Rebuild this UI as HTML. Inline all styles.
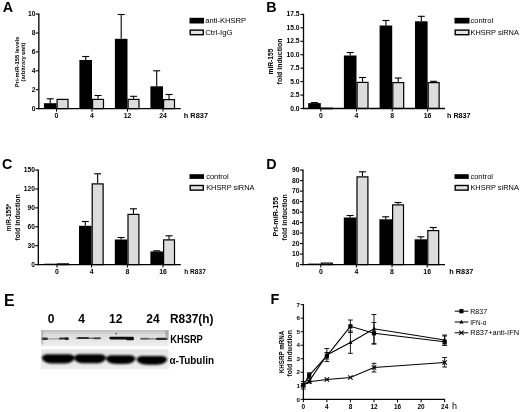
<!DOCTYPE html>
<html lang="en"><head><meta charset="utf-8"><title>KHSRP and miR-155 figure</title>
<style>html,body{margin:0;padding:0;background:#fff;}body{width:520px;height:412px;overflow:hidden;}svg{display:block;}svg text{font-family:"Liberation Sans", Arial, Helvetica, sans-serif;fill:#000;}</style>
</head><body>
<svg width="520" height="412" viewBox="0 0 520 412">
<defs>
<filter id="b1" x="-20%" y="-50%" width="140%" height="200%"><feGaussianBlur stdDeviation="0.9"/></filter>
<filter id="b2" x="-20%" y="-50%" width="140%" height="200%"><feGaussianBlur stdDeviation="0.7"/></filter>
<filter id="soft" x="-5%" y="-5%" width="110%" height="110%"><feGaussianBlur stdDeviation="0.35"/></filter>
<linearGradient id="g1" x1="0" y1="0" x2="0" y2="1"><stop offset="0" stop-color="#bdbdbd"/><stop offset="0.3" stop-color="#dcdcdc"/><stop offset="0.6" stop-color="#e6e6e6"/><stop offset="1" stop-color="#efefef"/></linearGradient>
<linearGradient id="g2" x1="0" y1="0" x2="0" y2="1"><stop offset="0" stop-color="#e4e4e4"/><stop offset="1" stop-color="#ededed"/></linearGradient>
</defs>
<rect width="520" height="412" fill="#fff"/>
<g filter="url(#soft)">
<text x="2.7" y="12.2" font-size="14.3" font-weight="bold" text-anchor="start">A</text>
<text x="266.3" y="12.2" font-size="14.3" font-weight="bold" text-anchor="start">B</text>
<text x="2.0" y="169.4" font-size="14.3" font-weight="bold" text-anchor="start">C</text>
<text x="266.3" y="169.2" font-size="14.3" font-weight="bold" text-anchor="start">D</text>
<text x="3.9" y="305.5" font-size="15.8" font-weight="bold" text-anchor="start">E</text>
<text x="270.5" y="304.2" font-size="14.5" font-weight="bold" text-anchor="start">F</text>
<line x1="50.2" y1="103.2" x2="50.2" y2="98.8" stroke="#000" stroke-width="1.1"/>
<line x1="46.7" y1="98.8" x2="53.7" y2="98.8" stroke="#000" stroke-width="1.1"/>
<rect x="43.9" y="103.2" width="12.6" height="5.3999999999999915" fill="#000"/>
<line x1="85.7" y1="60" x2="85.7" y2="56.5" stroke="#000" stroke-width="1.1"/>
<line x1="82.2" y1="56.5" x2="89.2" y2="56.5" stroke="#000" stroke-width="1.1"/>
<rect x="79.4" y="60" width="12.6" height="48.599999999999994" fill="#000"/>
<line x1="121.2" y1="38.8" x2="121.2" y2="14.5" stroke="#000" stroke-width="1.1"/>
<line x1="117.7" y1="14.5" x2="124.7" y2="14.5" stroke="#000" stroke-width="1.1"/>
<rect x="114.9" y="38.8" width="12.6" height="69.8" fill="#000"/>
<line x1="156.7" y1="86.3" x2="156.7" y2="70.8" stroke="#000" stroke-width="1.1"/>
<line x1="153.2" y1="70.8" x2="160.2" y2="70.8" stroke="#000" stroke-width="1.1"/>
<rect x="150.4" y="86.3" width="12.6" height="22.299999999999997" fill="#000"/>
<rect x="57.1" y="99.39999999999999" width="10.9" height="9.199999999999998" fill="#dcdcdc" stroke="#000" stroke-width="1.2"/>
<line x1="98.05" y1="98.8" x2="98.05" y2="95.5" stroke="#000" stroke-width="1.1"/>
<line x1="94.55" y1="95.5" x2="101.55" y2="95.5" stroke="#000" stroke-width="1.1"/>
<rect x="92.6" y="99.39999999999999" width="10.9" height="9.199999999999998" fill="#dcdcdc" stroke="#000" stroke-width="1.2"/>
<line x1="133.55" y1="98.8" x2="133.55" y2="96.3" stroke="#000" stroke-width="1.1"/>
<line x1="130.05" y1="96.3" x2="137.05" y2="96.3" stroke="#000" stroke-width="1.1"/>
<rect x="128.1" y="99.39999999999999" width="10.9" height="9.199999999999998" fill="#dcdcdc" stroke="#000" stroke-width="1.2"/>
<line x1="169.05" y1="99.0" x2="169.05" y2="94.5" stroke="#000" stroke-width="1.1"/>
<line x1="165.55" y1="94.5" x2="172.55" y2="94.5" stroke="#000" stroke-width="1.1"/>
<rect x="163.6" y="99.6" width="10.9" height="8.999999999999995" fill="#dcdcdc" stroke="#000" stroke-width="1.2"/>
<line x1="38.85" y1="13.5" x2="38.85" y2="109.25" stroke="#000" stroke-width="1.3"/>
<line x1="38.2" y1="108.6" x2="180.8" y2="108.6" stroke="#000" stroke-width="1.3"/>
<line x1="35.75" y1="108.6" x2="38.85" y2="108.6" stroke="#000" stroke-width="1.1"/>
<text x="35.45" y="110.6" font-size="6.7" font-weight="bold" text-anchor="end">0</text>
<line x1="35.75" y1="89.7" x2="38.85" y2="89.7" stroke="#000" stroke-width="1.1"/>
<text x="35.45" y="91.7" font-size="6.7" font-weight="bold" text-anchor="end">2</text>
<line x1="35.75" y1="70.8" x2="38.85" y2="70.8" stroke="#000" stroke-width="1.1"/>
<text x="35.45" y="72.8" font-size="6.7" font-weight="bold" text-anchor="end">4</text>
<line x1="35.75" y1="51.9" x2="38.85" y2="51.9" stroke="#000" stroke-width="1.1"/>
<text x="35.45" y="53.9" font-size="6.7" font-weight="bold" text-anchor="end">6</text>
<line x1="35.75" y1="33" x2="38.85" y2="33" stroke="#000" stroke-width="1.1"/>
<text x="35.45" y="35.0" font-size="6.7" font-weight="bold" text-anchor="end">8</text>
<line x1="35.75" y1="14.1" x2="38.85" y2="14.1" stroke="#000" stroke-width="1.1"/>
<text x="35.45" y="16.1" font-size="6.7" font-weight="bold" text-anchor="end">10</text>
<line x1="56.5" y1="108.6" x2="56.5" y2="111.6" stroke="#000" stroke-width="1"/>
<text x="56.5" y="118.1" font-size="6.9" font-weight="bold" text-anchor="middle">0</text>
<line x1="92" y1="108.6" x2="92" y2="111.6" stroke="#000" stroke-width="1"/>
<text x="92" y="118.1" font-size="6.9" font-weight="bold" text-anchor="middle">4</text>
<line x1="127.5" y1="108.6" x2="127.5" y2="111.6" stroke="#000" stroke-width="1"/>
<text x="127.5" y="118.1" font-size="6.9" font-weight="bold" text-anchor="middle">12</text>
<line x1="163" y1="108.6" x2="163" y2="111.6" stroke="#000" stroke-width="1"/>
<text x="163" y="118.1" font-size="6.9" font-weight="bold" text-anchor="middle">24</text>
<text x="183.8" y="117.6" font-size="7.4" font-weight="bold" text-anchor="start" textLength="24.2" lengthAdjust="spacingAndGlyphs">h R837</text>
<text transform="translate(19.3,62) rotate(-90)" font-size="5.9" font-weight="bold" text-anchor="middle" textLength="50.6" lengthAdjust="spacingAndGlyphs">Pri-miR-155 levels</text>
<text transform="translate(25.2,62) rotate(-90)" font-size="5.9" font-weight="bold" text-anchor="middle" textLength="39" lengthAdjust="spacingAndGlyphs">(arbitrary unit)</text>
<rect x="189.5" y="17.8" width="14.5" height="5.7" fill="#000"/>
<rect x="190.2" y="30.1" width="13.1" height="4.6" fill="#e4e4e4" stroke="#000" stroke-width="1.4"/>
<text x="205.2" y="23.4" font-size="7.7" text-anchor="start" textLength="41" lengthAdjust="spacingAndGlyphs">anti-KHSRP</text>
<text x="205.2" y="34.65" font-size="7.7" text-anchor="start" textLength="27.5" lengthAdjust="spacingAndGlyphs">Ctrl-IgG</text>
<line x1="314.5" y1="103.1" x2="314.5" y2="102.6" stroke="#000" stroke-width="1.1"/>
<line x1="311.0" y1="102.6" x2="318.0" y2="102.6" stroke="#000" stroke-width="1.1"/>
<rect x="308.2" y="103.1" width="12.6" height="5.400000000000006" fill="#000"/>
<line x1="350.2" y1="55.5" x2="350.2" y2="52.5" stroke="#000" stroke-width="1.1"/>
<line x1="346.7" y1="52.5" x2="353.7" y2="52.5" stroke="#000" stroke-width="1.1"/>
<rect x="343.9" y="55.5" width="12.6" height="53.0" fill="#000"/>
<line x1="385.9" y1="25.5" x2="385.9" y2="20.5" stroke="#000" stroke-width="1.1"/>
<line x1="382.4" y1="20.5" x2="389.4" y2="20.5" stroke="#000" stroke-width="1.1"/>
<rect x="379.59999999999997" y="25.5" width="12.6" height="83.0" fill="#000"/>
<line x1="421.3" y1="21.3" x2="421.3" y2="16.3" stroke="#000" stroke-width="1.1"/>
<line x1="417.8" y1="16.3" x2="424.8" y2="16.3" stroke="#000" stroke-width="1.1"/>
<rect x="415.0" y="21.3" width="12.6" height="87.2" fill="#000"/>
<rect x="321.40000000000003" y="108.19999999999999" width="10.9" height="0.5" fill="#dcdcdc" stroke="#000" stroke-width="1.2"/>
<line x1="362.55" y1="81.8" x2="362.55" y2="77.5" stroke="#000" stroke-width="1.1"/>
<line x1="359.05" y1="77.5" x2="366.05" y2="77.5" stroke="#000" stroke-width="1.1"/>
<rect x="357.1" y="82.39999999999999" width="10.9" height="26.1" fill="#dcdcdc" stroke="#000" stroke-width="1.2"/>
<line x1="398.25" y1="82" x2="398.25" y2="78" stroke="#000" stroke-width="1.1"/>
<line x1="394.75" y1="78" x2="401.75" y2="78" stroke="#000" stroke-width="1.1"/>
<rect x="392.8" y="82.6" width="10.9" height="25.9" fill="#dcdcdc" stroke="#000" stroke-width="1.2"/>
<line x1="433.65000000000003" y1="82" x2="433.65000000000003" y2="81.3" stroke="#000" stroke-width="1.1"/>
<line x1="430.15000000000003" y1="81.3" x2="437.15000000000003" y2="81.3" stroke="#000" stroke-width="1.1"/>
<rect x="428.20000000000005" y="82.6" width="10.9" height="25.9" fill="#dcdcdc" stroke="#000" stroke-width="1.2"/>
<line x1="303.5" y1="13.8" x2="303.5" y2="109.15" stroke="#000" stroke-width="1.3"/>
<line x1="302.85" y1="108.5" x2="445" y2="108.5" stroke="#000" stroke-width="1.3"/>
<line x1="300.4" y1="108.5" x2="303.5" y2="108.5" stroke="#000" stroke-width="1.1"/>
<text x="299.5" y="110.5" font-size="6.7" font-weight="bold" text-anchor="end">0.0</text>
<line x1="300.4" y1="95.1" x2="303.5" y2="95.1" stroke="#000" stroke-width="1.1"/>
<text x="299.5" y="97.1" font-size="6.7" font-weight="bold" text-anchor="end">2.5</text>
<line x1="300.4" y1="81.6" x2="303.5" y2="81.6" stroke="#000" stroke-width="1.1"/>
<text x="299.5" y="83.6" font-size="6.7" font-weight="bold" text-anchor="end">5.0</text>
<line x1="300.4" y1="68.2" x2="303.5" y2="68.2" stroke="#000" stroke-width="1.1"/>
<text x="299.5" y="70.2" font-size="6.7" font-weight="bold" text-anchor="end">7.5</text>
<line x1="300.4" y1="54.7" x2="303.5" y2="54.7" stroke="#000" stroke-width="1.1"/>
<text x="299.5" y="56.7" font-size="6.7" font-weight="bold" text-anchor="end">10.0</text>
<line x1="300.4" y1="41.3" x2="303.5" y2="41.3" stroke="#000" stroke-width="1.1"/>
<text x="299.5" y="43.3" font-size="6.7" font-weight="bold" text-anchor="end">12.5</text>
<line x1="300.4" y1="27.8" x2="303.5" y2="27.8" stroke="#000" stroke-width="1.1"/>
<text x="299.5" y="29.8" font-size="6.7" font-weight="bold" text-anchor="end">15.0</text>
<line x1="300.4" y1="14.4" x2="303.5" y2="14.4" stroke="#000" stroke-width="1.1"/>
<text x="299.5" y="16.4" font-size="6.7" font-weight="bold" text-anchor="end">17.5</text>
<line x1="320.8" y1="108.5" x2="320.8" y2="111.5" stroke="#000" stroke-width="1"/>
<text x="320.8" y="118.0" font-size="6.9" font-weight="bold" text-anchor="middle">0</text>
<line x1="356.5" y1="108.5" x2="356.5" y2="111.5" stroke="#000" stroke-width="1"/>
<text x="356.5" y="118.0" font-size="6.9" font-weight="bold" text-anchor="middle">4</text>
<line x1="392.2" y1="108.5" x2="392.2" y2="111.5" stroke="#000" stroke-width="1"/>
<text x="392.2" y="118.0" font-size="6.9" font-weight="bold" text-anchor="middle">8</text>
<line x1="427.6" y1="108.5" x2="427.6" y2="111.5" stroke="#000" stroke-width="1"/>
<text x="427.6" y="118.0" font-size="6.9" font-weight="bold" text-anchor="middle">16</text>
<text x="447" y="117.6" font-size="7.4" font-weight="bold" text-anchor="start" textLength="23.6" lengthAdjust="spacingAndGlyphs">h R837</text>
<text transform="translate(273.3,61.5) rotate(-90)" font-size="6.8" font-weight="bold" text-anchor="middle" textLength="26" lengthAdjust="spacingAndGlyphs">miR-155</text>
<text transform="translate(281.5,61.5) rotate(-90)" font-size="6.8" font-weight="bold" text-anchor="middle" textLength="45.8" lengthAdjust="spacingAndGlyphs">fold induction</text>
<rect x="454.5" y="17.8" width="15" height="5.7" fill="#000"/>
<rect x="455.2" y="30.1" width="13.6" height="4.6" fill="#e4e4e4" stroke="#000" stroke-width="1.4"/>
<text x="470.6" y="23.4" font-size="7.7" text-anchor="start" textLength="22.5" lengthAdjust="spacingAndGlyphs">control</text>
<text x="470.6" y="34.65" font-size="7.7" text-anchor="start" textLength="48.2" lengthAdjust="spacingAndGlyphs">KHSRP siRNA</text>
<rect x="44.4" y="263.7" width="12.6" height="0.9000000000000341" fill="#000"/>
<line x1="85.3" y1="225.8" x2="85.3" y2="221.5" stroke="#000" stroke-width="1.1"/>
<line x1="81.8" y1="221.5" x2="88.8" y2="221.5" stroke="#000" stroke-width="1.1"/>
<rect x="79.0" y="225.8" width="12.6" height="38.80000000000001" fill="#000"/>
<line x1="121.10000000000001" y1="239.5" x2="121.10000000000001" y2="237.5" stroke="#000" stroke-width="1.1"/>
<line x1="117.60000000000001" y1="237.5" x2="124.60000000000001" y2="237.5" stroke="#000" stroke-width="1.1"/>
<rect x="114.80000000000001" y="239.5" width="12.6" height="25.100000000000023" fill="#000"/>
<line x1="156.7" y1="251.4" x2="156.7" y2="250.8" stroke="#000" stroke-width="1.1"/>
<line x1="153.2" y1="250.8" x2="160.2" y2="250.8" stroke="#000" stroke-width="1.1"/>
<rect x="150.4" y="251.4" width="12.6" height="13.200000000000017" fill="#000"/>
<rect x="57.6" y="263.90000000000003" width="10.9" height="0.7000000000000114" fill="#dcdcdc" stroke="#000" stroke-width="1.2"/>
<line x1="97.64999999999999" y1="183.3" x2="97.64999999999999" y2="173.8" stroke="#000" stroke-width="1.1"/>
<line x1="94.14999999999999" y1="173.8" x2="101.14999999999999" y2="173.8" stroke="#000" stroke-width="1.1"/>
<rect x="92.19999999999999" y="183.9" width="10.9" height="80.70000000000002" fill="#dcdcdc" stroke="#000" stroke-width="1.2"/>
<line x1="133.45000000000002" y1="213.8" x2="133.45000000000002" y2="208.8" stroke="#000" stroke-width="1.1"/>
<line x1="129.95000000000002" y1="208.8" x2="136.95000000000002" y2="208.8" stroke="#000" stroke-width="1.1"/>
<rect x="128.0" y="214.4" width="10.9" height="50.20000000000001" fill="#dcdcdc" stroke="#000" stroke-width="1.2"/>
<line x1="169.05" y1="239.3" x2="169.05" y2="235.8" stroke="#000" stroke-width="1.1"/>
<line x1="165.55" y1="235.8" x2="172.55" y2="235.8" stroke="#000" stroke-width="1.1"/>
<rect x="163.6" y="239.9" width="10.9" height="24.70000000000001" fill="#dcdcdc" stroke="#000" stroke-width="1.2"/>
<line x1="38.3" y1="169.5" x2="38.3" y2="265.25" stroke="#000" stroke-width="1.3"/>
<line x1="37.65" y1="264.6" x2="180.8" y2="264.6" stroke="#000" stroke-width="1.3"/>
<line x1="35.199999999999996" y1="264.6" x2="38.3" y2="264.6" stroke="#000" stroke-width="1.1"/>
<text x="34.9" y="266.6" font-size="6.7" font-weight="bold" text-anchor="end">0</text>
<line x1="35.199999999999996" y1="245.7" x2="38.3" y2="245.7" stroke="#000" stroke-width="1.1"/>
<text x="34.9" y="247.7" font-size="6.7" font-weight="bold" text-anchor="end">30</text>
<line x1="35.199999999999996" y1="226.8" x2="38.3" y2="226.8" stroke="#000" stroke-width="1.1"/>
<text x="34.9" y="228.8" font-size="6.7" font-weight="bold" text-anchor="end">60</text>
<line x1="35.199999999999996" y1="207.9" x2="38.3" y2="207.9" stroke="#000" stroke-width="1.1"/>
<text x="34.9" y="209.9" font-size="6.7" font-weight="bold" text-anchor="end">90</text>
<line x1="35.199999999999996" y1="189" x2="38.3" y2="189" stroke="#000" stroke-width="1.1"/>
<text x="34.9" y="191.0" font-size="6.7" font-weight="bold" text-anchor="end">120</text>
<line x1="35.199999999999996" y1="170.1" x2="38.3" y2="170.1" stroke="#000" stroke-width="1.1"/>
<text x="34.9" y="172.1" font-size="6.7" font-weight="bold" text-anchor="end">150</text>
<line x1="57" y1="264.6" x2="57" y2="267.6" stroke="#000" stroke-width="1"/>
<text x="57" y="274.1" font-size="6.9" font-weight="bold" text-anchor="middle">0</text>
<line x1="91.6" y1="264.6" x2="91.6" y2="267.6" stroke="#000" stroke-width="1"/>
<text x="91.6" y="274.1" font-size="6.9" font-weight="bold" text-anchor="middle">4</text>
<line x1="127.4" y1="264.6" x2="127.4" y2="267.6" stroke="#000" stroke-width="1"/>
<text x="127.4" y="274.1" font-size="6.9" font-weight="bold" text-anchor="middle">8</text>
<line x1="163" y1="264.6" x2="163" y2="267.6" stroke="#000" stroke-width="1"/>
<text x="163" y="274.1" font-size="6.9" font-weight="bold" text-anchor="middle">16</text>
<text x="184.3" y="273.8" font-size="7.4" font-weight="bold" text-anchor="start" textLength="21.5" lengthAdjust="spacingAndGlyphs">h R837</text>
<text transform="translate(11.4,217.5) rotate(-90)" font-size="6.8" font-weight="bold" text-anchor="middle" textLength="27.5" lengthAdjust="spacingAndGlyphs">miR-155*</text>
<text transform="translate(19.5,217.4) rotate(-90)" font-size="6.8" font-weight="bold" text-anchor="middle" textLength="46.3" lengthAdjust="spacingAndGlyphs">fold induction</text>
<rect x="189.5" y="174.2" width="14.5" height="4.7" fill="#000"/>
<rect x="190.2" y="185.5" width="13.1" height="4.6" fill="#e4e4e4" stroke="#000" stroke-width="1.4"/>
<text x="206.2" y="178.79999999999998" font-size="7.7" text-anchor="start" textLength="22.5" lengthAdjust="spacingAndGlyphs">control</text>
<text x="206.2" y="190.05" font-size="7.7" text-anchor="start" textLength="48.2" lengthAdjust="spacingAndGlyphs">KHSRP siRNA</text>
<rect x="308.2" y="263.6" width="12.6" height="1.0" fill="#000"/>
<line x1="350.09999999999997" y1="217.5" x2="350.09999999999997" y2="215.5" stroke="#000" stroke-width="1.1"/>
<line x1="346.59999999999997" y1="215.5" x2="353.59999999999997" y2="215.5" stroke="#000" stroke-width="1.1"/>
<rect x="343.79999999999995" y="217.5" width="12.6" height="47.10000000000002" fill="#000"/>
<line x1="385.7" y1="219.3" x2="385.7" y2="216.8" stroke="#000" stroke-width="1.1"/>
<line x1="382.2" y1="216.8" x2="389.2" y2="216.8" stroke="#000" stroke-width="1.1"/>
<rect x="379.4" y="219.3" width="12.6" height="45.30000000000001" fill="#000"/>
<line x1="420.9" y1="239.3" x2="420.9" y2="236.8" stroke="#000" stroke-width="1.1"/>
<line x1="417.4" y1="236.8" x2="424.4" y2="236.8" stroke="#000" stroke-width="1.1"/>
<rect x="414.59999999999997" y="239.3" width="12.6" height="25.30000000000001" fill="#000"/>
<rect x="321.40000000000003" y="263.1" width="10.9" height="1.5000000000000226" fill="#dcdcdc" stroke="#000" stroke-width="1.2"/>
<line x1="362.45" y1="176.3" x2="362.45" y2="171.8" stroke="#000" stroke-width="1.1"/>
<line x1="358.95" y1="171.8" x2="365.95" y2="171.8" stroke="#000" stroke-width="1.1"/>
<rect x="357.0" y="176.9" width="10.9" height="87.70000000000002" fill="#dcdcdc" stroke="#000" stroke-width="1.2"/>
<line x1="398.05" y1="204.3" x2="398.05" y2="202.5" stroke="#000" stroke-width="1.1"/>
<line x1="394.55" y1="202.5" x2="401.55" y2="202.5" stroke="#000" stroke-width="1.1"/>
<rect x="392.6" y="204.9" width="10.9" height="59.70000000000001" fill="#dcdcdc" stroke="#000" stroke-width="1.2"/>
<line x1="433.25" y1="230" x2="433.25" y2="227.5" stroke="#000" stroke-width="1.1"/>
<line x1="429.75" y1="227.5" x2="436.75" y2="227.5" stroke="#000" stroke-width="1.1"/>
<rect x="427.8" y="230.6" width="10.9" height="34.00000000000002" fill="#dcdcdc" stroke="#000" stroke-width="1.2"/>
<line x1="303" y1="169.5" x2="303" y2="265.25" stroke="#000" stroke-width="1.3"/>
<line x1="302.35" y1="264.6" x2="445" y2="264.6" stroke="#000" stroke-width="1.3"/>
<line x1="299.9" y1="264.6" x2="303" y2="264.6" stroke="#000" stroke-width="1.1"/>
<text x="299.4" y="266.6" font-size="6.7" font-weight="bold" text-anchor="end">0</text>
<line x1="299.9" y1="254.1" x2="303" y2="254.1" stroke="#000" stroke-width="1.1"/>
<text x="299.4" y="256.1" font-size="6.7" font-weight="bold" text-anchor="end">10</text>
<line x1="299.9" y1="243.6" x2="303" y2="243.6" stroke="#000" stroke-width="1.1"/>
<text x="299.4" y="245.6" font-size="6.7" font-weight="bold" text-anchor="end">20</text>
<line x1="299.9" y1="233.1" x2="303" y2="233.1" stroke="#000" stroke-width="1.1"/>
<text x="299.4" y="235.1" font-size="6.7" font-weight="bold" text-anchor="end">30</text>
<line x1="299.9" y1="222.6" x2="303" y2="222.6" stroke="#000" stroke-width="1.1"/>
<text x="299.4" y="224.6" font-size="6.7" font-weight="bold" text-anchor="end">40</text>
<line x1="299.9" y1="212.1" x2="303" y2="212.1" stroke="#000" stroke-width="1.1"/>
<text x="299.4" y="214.1" font-size="6.7" font-weight="bold" text-anchor="end">50</text>
<line x1="299.9" y1="201.6" x2="303" y2="201.6" stroke="#000" stroke-width="1.1"/>
<text x="299.4" y="203.6" font-size="6.7" font-weight="bold" text-anchor="end">60</text>
<line x1="299.9" y1="191.1" x2="303" y2="191.1" stroke="#000" stroke-width="1.1"/>
<text x="299.4" y="193.1" font-size="6.7" font-weight="bold" text-anchor="end">70</text>
<line x1="299.9" y1="180.6" x2="303" y2="180.6" stroke="#000" stroke-width="1.1"/>
<text x="299.4" y="182.6" font-size="6.7" font-weight="bold" text-anchor="end">80</text>
<line x1="299.9" y1="170.1" x2="303" y2="170.1" stroke="#000" stroke-width="1.1"/>
<text x="299.4" y="172.1" font-size="6.7" font-weight="bold" text-anchor="end">90</text>
<line x1="320.8" y1="264.6" x2="320.8" y2="267.6" stroke="#000" stroke-width="1"/>
<text x="320.8" y="274.1" font-size="6.9" font-weight="bold" text-anchor="middle">0</text>
<line x1="356.4" y1="264.6" x2="356.4" y2="267.6" stroke="#000" stroke-width="1"/>
<text x="356.4" y="274.1" font-size="6.9" font-weight="bold" text-anchor="middle">4</text>
<line x1="392" y1="264.6" x2="392" y2="267.6" stroke="#000" stroke-width="1"/>
<text x="392" y="274.1" font-size="6.9" font-weight="bold" text-anchor="middle">8</text>
<line x1="427.2" y1="264.6" x2="427.2" y2="267.6" stroke="#000" stroke-width="1"/>
<text x="427.2" y="274.1" font-size="6.9" font-weight="bold" text-anchor="middle">16</text>
<text x="449.3" y="273.8" font-size="7.4" font-weight="bold" text-anchor="start" textLength="24" lengthAdjust="spacingAndGlyphs">h R837</text>
<text transform="translate(278.4,216.7) rotate(-90)" font-size="6.8" font-weight="bold" text-anchor="middle" textLength="39.8" lengthAdjust="spacingAndGlyphs">Pri-miR-155</text>
<text transform="translate(287,217.4) rotate(-90)" font-size="6.8" font-weight="bold" text-anchor="middle" textLength="46.3" lengthAdjust="spacingAndGlyphs">fold induction</text>
<rect x="454.5" y="174.2" width="14.3" height="4.7" fill="#000"/>
<rect x="455.2" y="185.5" width="12.9" height="4.6" fill="#e4e4e4" stroke="#000" stroke-width="1.4"/>
<text x="470.4" y="178.79999999999998" font-size="7.7" text-anchor="start" textLength="22.6" lengthAdjust="spacingAndGlyphs">control</text>
<text x="470.4" y="190.05" font-size="7.7" text-anchor="start" textLength="48.5" lengthAdjust="spacingAndGlyphs">KHSRP siRNA</text>
<text x="51" y="323" font-size="12" font-weight="bold" text-anchor="middle">0</text>
<text x="81.6" y="323" font-size="12" font-weight="bold" text-anchor="middle">4</text>
<text x="115.8" y="323" font-size="12" font-weight="bold" text-anchor="middle">12</text>
<text x="152.9" y="323" font-size="12" font-weight="bold" text-anchor="middle">24</text>
<text x="170" y="323" font-size="12" font-weight="bold" text-anchor="start" textLength="43.5" lengthAdjust="spacingAndGlyphs">R837(h)</text>
<text x="170.3" y="342.6" font-size="10.5" font-weight="bold" text-anchor="start" textLength="32.5" lengthAdjust="spacingAndGlyphs">KHSRP</text>
<text x="169.5" y="363.8" font-size="10.5" font-weight="bold" text-anchor="start" textLength="44.5" lengthAdjust="spacingAndGlyphs">α-Tubulin</text>
<rect x="41" y="330" width="127.7" height="16.3" fill="url(#g1)"/>
<g filter="url(#b2)">
<rect x="41.5" y="337.5" width="6.5" height="2.4" rx="1.2" fill="#2a2a2a" opacity="1"/>
<rect x="46" y="338.25" width="16" height="1.3" rx="0.65" fill="#777" opacity="0.7"/>
<rect x="59" y="337.6" width="9.599999999999994" height="2.0" rx="1.0" fill="#333" opacity="1"/>
<rect x="64.5" y="337.4" width="4.299999999999997" height="2.6" rx="1.3" fill="#222" opacity="1"/>
<rect x="75.8" y="337.4" width="25.5" height="1.6" rx="0.8" fill="#666" opacity="0.9"/>
<rect x="77.5" y="337.1" width="11.5" height="2.0" rx="1.0" fill="#333" opacity="1"/>
<rect x="93.5" y="337.40000000000003" width="7.0" height="1.8" rx="0.9" fill="#444" opacity="1"/>
<rect x="109.3" y="336.75" width="24.500000000000014" height="2.7" rx="1.35" fill="#0c0c0c" opacity="1"/>
<rect x="126" y="337.09999999999997" width="8" height="3.2" rx="1.6" fill="#111" opacity="1"/>
<rect x="140.3" y="338.15000000000003" width="27.5" height="1.3" rx="0.65" fill="#666" opacity="0.9"/>
<rect x="140.3" y="337.8" width="8.699999999999989" height="1.8" rx="0.9" fill="#555" opacity="0.8"/>
<rect x="156" y="337.79999999999995" width="11.599999999999994" height="2.2" rx="1.1" fill="#2a2a2a" opacity="1"/>
<circle cx="116.2" cy="333.6" r="0.9" fill="#555"/>
<rect x="165.5" y="330.5" width="3" height="9" fill="#888" opacity="0.55"/>
<rect x="41" y="330.5" width="2.5" height="14" fill="#999" opacity="0.45"/>
</g>
<rect x="41" y="349.3" width="127.7" height="20" fill="url(#g2)"/>
<g filter="url(#b1)">
<path d="M41.8,357.734 C42.8,354.5 45.736,354.2 50.0,354.2 L66.39999999999999,354.2 C70.664,354.2 73.6,354.5 74.6,357.734 C73.6,362.3 68.696,363.5 62.791999999999994,363.5 L53.608,363.5 C47.70399999999999,363.5 42.8,362.3 41.8,357.734 Z" fill="#050505"/>
<path d="M74.0,357.658 C75.0,354.5 77.84,354.2 82.0,354.2 L98.0,354.2 C102.16,354.2 105.0,354.5 106.0,357.658 C105.0,362.1 100.24,363.3 94.48,363.3 L85.52,363.3 C79.76,363.3 75.0,362.1 74.0,357.658 Z" fill="#050505"/>
<path d="M106.0,358.606 C107.0,355.6 109.528,355.3 113.35,355.3 L128.05,355.3 C131.872,355.3 134.4,355.6 135.4,358.606 C134.4,362.8 130.108,364.0 124.816,364.0 L116.584,364.0 C111.292,364.0 107.0,362.8 106.0,358.606 Z" fill="#050505"/>
<path d="M136.6,359.306 C137.6,356.3 140.272,356.0 144.25,356.0 L159.54999999999998,356.0 C163.528,356.0 166.2,356.3 167.2,359.306 C166.2,363.5 161.69199999999998,364.7 156.184,364.7 L147.61599999999999,364.7 C142.108,364.7 137.6,363.5 136.6,359.306 Z" fill="#050505"/>
</g>
<line x1="303.4" y1="304.06" x2="303.4" y2="399.95" stroke="#000" stroke-width="1.3"/>
<line x1="302.75" y1="399.3" x2="445" y2="399.3" stroke="#000" stroke-width="1.3"/>
<line x1="300.59999999999997" y1="399.3" x2="303.4" y2="399.3" stroke="#000" stroke-width="1"/>
<text x="300.0" y="401.5" font-size="6.2" font-weight="bold" text-anchor="end">0</text>
<line x1="300.59999999999997" y1="385.78000000000003" x2="303.4" y2="385.78000000000003" stroke="#000" stroke-width="1"/>
<text x="300.0" y="387.98" font-size="6.2" font-weight="bold" text-anchor="end">1</text>
<line x1="300.59999999999997" y1="372.26" x2="303.4" y2="372.26" stroke="#000" stroke-width="1"/>
<text x="300.0" y="374.46" font-size="6.2" font-weight="bold" text-anchor="end">2</text>
<line x1="300.59999999999997" y1="358.74" x2="303.4" y2="358.74" stroke="#000" stroke-width="1"/>
<text x="300.0" y="360.94" font-size="6.2" font-weight="bold" text-anchor="end">3</text>
<line x1="300.59999999999997" y1="345.22" x2="303.4" y2="345.22" stroke="#000" stroke-width="1"/>
<text x="300.0" y="347.42" font-size="6.2" font-weight="bold" text-anchor="end">4</text>
<line x1="300.59999999999997" y1="331.70000000000005" x2="303.4" y2="331.70000000000005" stroke="#000" stroke-width="1"/>
<text x="300.0" y="333.90000000000003" font-size="6.2" font-weight="bold" text-anchor="end">5</text>
<line x1="300.59999999999997" y1="318.18" x2="303.4" y2="318.18" stroke="#000" stroke-width="1"/>
<text x="300.0" y="320.38" font-size="6.2" font-weight="bold" text-anchor="end">6</text>
<line x1="300.59999999999997" y1="304.66" x2="303.4" y2="304.66" stroke="#000" stroke-width="1"/>
<text x="300.0" y="306.86" font-size="6.2" font-weight="bold" text-anchor="end">7</text>
<line x1="303.3" y1="399.3" x2="303.3" y2="402.3" stroke="#000" stroke-width="1"/>
<text x="303.3" y="409.2" font-size="6.4" font-weight="bold" text-anchor="middle">0</text>
<line x1="326.86" y1="399.3" x2="326.86" y2="402.3" stroke="#000" stroke-width="1"/>
<text x="326.86" y="409.2" font-size="6.4" font-weight="bold" text-anchor="middle">4</text>
<line x1="350.42" y1="399.3" x2="350.42" y2="402.3" stroke="#000" stroke-width="1"/>
<text x="350.42" y="409.2" font-size="6.4" font-weight="bold" text-anchor="middle">8</text>
<line x1="373.98" y1="399.3" x2="373.98" y2="402.3" stroke="#000" stroke-width="1"/>
<text x="373.98" y="409.2" font-size="6.4" font-weight="bold" text-anchor="middle">12</text>
<line x1="397.54" y1="399.3" x2="397.54" y2="402.3" stroke="#000" stroke-width="1"/>
<text x="397.54" y="409.2" font-size="6.4" font-weight="bold" text-anchor="middle">16</text>
<line x1="421.1" y1="399.3" x2="421.1" y2="402.3" stroke="#000" stroke-width="1"/>
<text x="421.1" y="409.2" font-size="6.4" font-weight="bold" text-anchor="middle">20</text>
<line x1="444.65999999999997" y1="399.3" x2="444.65999999999997" y2="402.3" stroke="#000" stroke-width="1"/>
<text x="444.65999999999997" y="409.2" font-size="6.4" font-weight="bold" text-anchor="middle">24</text>
<text x="452" y="408.6" font-size="9" text-anchor="start">h</text>
<text transform="translate(284.2,352) rotate(-90)" font-size="6.3" font-weight="bold" text-anchor="middle" textLength="42.6" lengthAdjust="spacingAndGlyphs">KHSRP mRNA</text>
<text transform="translate(292.2,353.3) rotate(-90)" font-size="6.8" font-weight="bold" text-anchor="middle" textLength="46.5" lengthAdjust="spacingAndGlyphs">fold induction</text>
<polyline points="303.3,385.3 309.2,381.8 326.9,379.5 350.4,377.5 374.0,367.5 444.7,362.5" fill="none" stroke="#000" stroke-width="1.1"/>
<line x1="303.3" y1="381.5" x2="303.3" y2="389" stroke="#000" stroke-width="0.9"/>
<line x1="300.90000000000003" y1="381.5" x2="305.7" y2="381.5" stroke="#000" stroke-width="0.9"/>
<line x1="300.90000000000003" y1="389" x2="305.7" y2="389" stroke="#000" stroke-width="0.9"/>
<line x1="301.1" y1="383.2" x2="305.5" y2="387.40000000000003" stroke="#000" stroke-width="1.15"/>
<line x1="301.1" y1="387.40000000000003" x2="305.5" y2="383.2" stroke="#000" stroke-width="1.15"/>
<line x1="306.99" y1="379.7" x2="311.39" y2="383.90000000000003" stroke="#000" stroke-width="1.15"/>
<line x1="306.99" y1="383.90000000000003" x2="311.39" y2="379.7" stroke="#000" stroke-width="1.15"/>
<line x1="324.66" y1="377.4" x2="329.06" y2="381.6" stroke="#000" stroke-width="1.15"/>
<line x1="324.66" y1="381.6" x2="329.06" y2="377.4" stroke="#000" stroke-width="1.15"/>
<line x1="348.22" y1="375.4" x2="352.62" y2="379.6" stroke="#000" stroke-width="1.15"/>
<line x1="348.22" y1="379.6" x2="352.62" y2="375.4" stroke="#000" stroke-width="1.15"/>
<line x1="373.98" y1="363.3" x2="373.98" y2="372" stroke="#000" stroke-width="0.9"/>
<line x1="371.58000000000004" y1="363.3" x2="376.38" y2="363.3" stroke="#000" stroke-width="0.9"/>
<line x1="371.58000000000004" y1="372" x2="376.38" y2="372" stroke="#000" stroke-width="0.9"/>
<line x1="371.78000000000003" y1="365.4" x2="376.18" y2="369.6" stroke="#000" stroke-width="1.15"/>
<line x1="371.78000000000003" y1="369.6" x2="376.18" y2="365.4" stroke="#000" stroke-width="1.15"/>
<line x1="444.65999999999997" y1="357.5" x2="444.65999999999997" y2="367" stroke="#000" stroke-width="0.9"/>
<line x1="442.26" y1="357.5" x2="447.05999999999995" y2="357.5" stroke="#000" stroke-width="0.9"/>
<line x1="442.26" y1="367" x2="447.05999999999995" y2="367" stroke="#000" stroke-width="0.9"/>
<line x1="442.46" y1="360.4" x2="446.85999999999996" y2="364.6" stroke="#000" stroke-width="1.15"/>
<line x1="442.46" y1="364.6" x2="446.85999999999996" y2="360.4" stroke="#000" stroke-width="1.15"/>
<polyline points="303.3,385.3 309.2,381 326.9,355 350.4,342.5 374.0,328.8 444.7,340" fill="none" stroke="#000" stroke-width="1.1"/>
<polygon points="303.3,383.1 305.40000000000003,386.90000000000003 301.2,386.90000000000003" fill="#000"/>
<line x1="309.19" y1="378" x2="309.19" y2="383" stroke="#000" stroke-width="0.9"/>
<line x1="306.79" y1="378" x2="311.59" y2="378" stroke="#000" stroke-width="0.9"/>
<line x1="306.79" y1="383" x2="311.59" y2="383" stroke="#000" stroke-width="0.9"/>
<polygon points="309.19,378.8 311.29,382.6 307.09,382.6" fill="#000"/>
<line x1="326.86" y1="348.5" x2="326.86" y2="361.5" stroke="#000" stroke-width="0.9"/>
<line x1="324.46000000000004" y1="348.5" x2="329.26" y2="348.5" stroke="#000" stroke-width="0.9"/>
<line x1="324.46000000000004" y1="361.5" x2="329.26" y2="361.5" stroke="#000" stroke-width="0.9"/>
<polygon points="326.86,352.8 328.96000000000004,356.6 324.76,356.6" fill="#000"/>
<line x1="350.42" y1="331" x2="350.42" y2="353.3" stroke="#000" stroke-width="0.9"/>
<line x1="348.02000000000004" y1="331" x2="352.82" y2="331" stroke="#000" stroke-width="0.9"/>
<line x1="348.02000000000004" y1="353.3" x2="352.82" y2="353.3" stroke="#000" stroke-width="0.9"/>
<polygon points="350.42,340.3 352.52000000000004,344.1 348.32,344.1" fill="#000"/>
<line x1="373.98" y1="314.5" x2="373.98" y2="343.8" stroke="#000" stroke-width="0.9"/>
<line x1="371.58000000000004" y1="314.5" x2="376.38" y2="314.5" stroke="#000" stroke-width="0.9"/>
<line x1="371.58000000000004" y1="343.8" x2="376.38" y2="343.8" stroke="#000" stroke-width="0.9"/>
<polygon points="373.98,326.6 376.08000000000004,330.40000000000003 371.88,330.40000000000003" fill="#000"/>
<line x1="444.65999999999997" y1="336" x2="444.65999999999997" y2="344" stroke="#000" stroke-width="0.9"/>
<line x1="442.26" y1="336" x2="447.05999999999995" y2="336" stroke="#000" stroke-width="0.9"/>
<line x1="442.26" y1="344" x2="447.05999999999995" y2="344" stroke="#000" stroke-width="0.9"/>
<polygon points="444.65999999999997,337.8 446.76,341.6 442.55999999999995,341.6" fill="#000"/>
<polyline points="303.3,385.3 309.2,375.4 326.9,355.8 350.4,326.3 374.0,333.3 444.7,341.8" fill="none" stroke="#000" stroke-width="1.1"/>
<rect x="301.2" y="383.2" width="4.2" height="4.2" fill="#000"/>
<line x1="309.19" y1="372.8" x2="309.19" y2="378.3" stroke="#000" stroke-width="0.9"/>
<line x1="306.79" y1="372.8" x2="311.59" y2="372.8" stroke="#000" stroke-width="0.9"/>
<line x1="306.79" y1="378.3" x2="311.59" y2="378.3" stroke="#000" stroke-width="0.9"/>
<rect x="307.09" y="373.29999999999995" width="4.2" height="4.2" fill="#000"/>
<line x1="326.86" y1="352.5" x2="326.86" y2="359" stroke="#000" stroke-width="0.9"/>
<line x1="324.46000000000004" y1="352.5" x2="329.26" y2="352.5" stroke="#000" stroke-width="0.9"/>
<line x1="324.46000000000004" y1="359" x2="329.26" y2="359" stroke="#000" stroke-width="0.9"/>
<rect x="324.76" y="353.7" width="4.2" height="4.2" fill="#000"/>
<line x1="350.42" y1="320" x2="350.42" y2="332.5" stroke="#000" stroke-width="0.9"/>
<line x1="348.02000000000004" y1="320" x2="352.82" y2="320" stroke="#000" stroke-width="0.9"/>
<line x1="348.02000000000004" y1="332.5" x2="352.82" y2="332.5" stroke="#000" stroke-width="0.9"/>
<rect x="348.32" y="324.2" width="4.2" height="4.2" fill="#000"/>
<line x1="373.98" y1="322.5" x2="373.98" y2="344" stroke="#000" stroke-width="0.9"/>
<line x1="371.58000000000004" y1="322.5" x2="376.38" y2="322.5" stroke="#000" stroke-width="0.9"/>
<line x1="371.58000000000004" y1="344" x2="376.38" y2="344" stroke="#000" stroke-width="0.9"/>
<rect x="371.88" y="331.2" width="4.2" height="4.2" fill="#000"/>
<line x1="444.65999999999997" y1="335" x2="444.65999999999997" y2="345.5" stroke="#000" stroke-width="0.9"/>
<line x1="442.26" y1="335" x2="447.05999999999995" y2="335" stroke="#000" stroke-width="0.9"/>
<line x1="442.26" y1="345.5" x2="447.05999999999995" y2="345.5" stroke="#000" stroke-width="0.9"/>
<rect x="442.55999999999995" y="339.7" width="4.2" height="4.2" fill="#000"/>
<line x1="454.7" y1="311.2" x2="468.3" y2="311.2" stroke="#000" stroke-width="1.0"/>
<rect x="459.29999999999995" y="309.09999999999997" width="4.2" height="4.2" fill="#000"/>
<text x="470.3" y="313.8" font-size="7.2" text-anchor="start" textLength="16.8" lengthAdjust="spacingAndGlyphs">R837</text>
<line x1="454.7" y1="322" x2="468.3" y2="322" stroke="#000" stroke-width="1.0"/>
<polygon points="461.4,319.8 463.5,323.6 459.29999999999995,323.6" fill="#000"/>
<text x="470.3" y="324.6" font-size="7.2" text-anchor="start" textLength="16.2" lengthAdjust="spacingAndGlyphs">IFN-α</text>
<line x1="454.7" y1="332.8" x2="468.3" y2="332.8" stroke="#000" stroke-width="1.0"/>
<line x1="459.2" y1="330.7" x2="463.59999999999997" y2="334.90000000000003" stroke="#000" stroke-width="1.15"/>
<line x1="459.2" y1="334.90000000000003" x2="463.59999999999997" y2="330.7" stroke="#000" stroke-width="1.15"/>
<text x="470.3" y="335.40000000000003" font-size="7.2" text-anchor="start" textLength="48.8" lengthAdjust="spacingAndGlyphs">R837+anti-IFN</text>
</g>
</svg>
</body></html>
